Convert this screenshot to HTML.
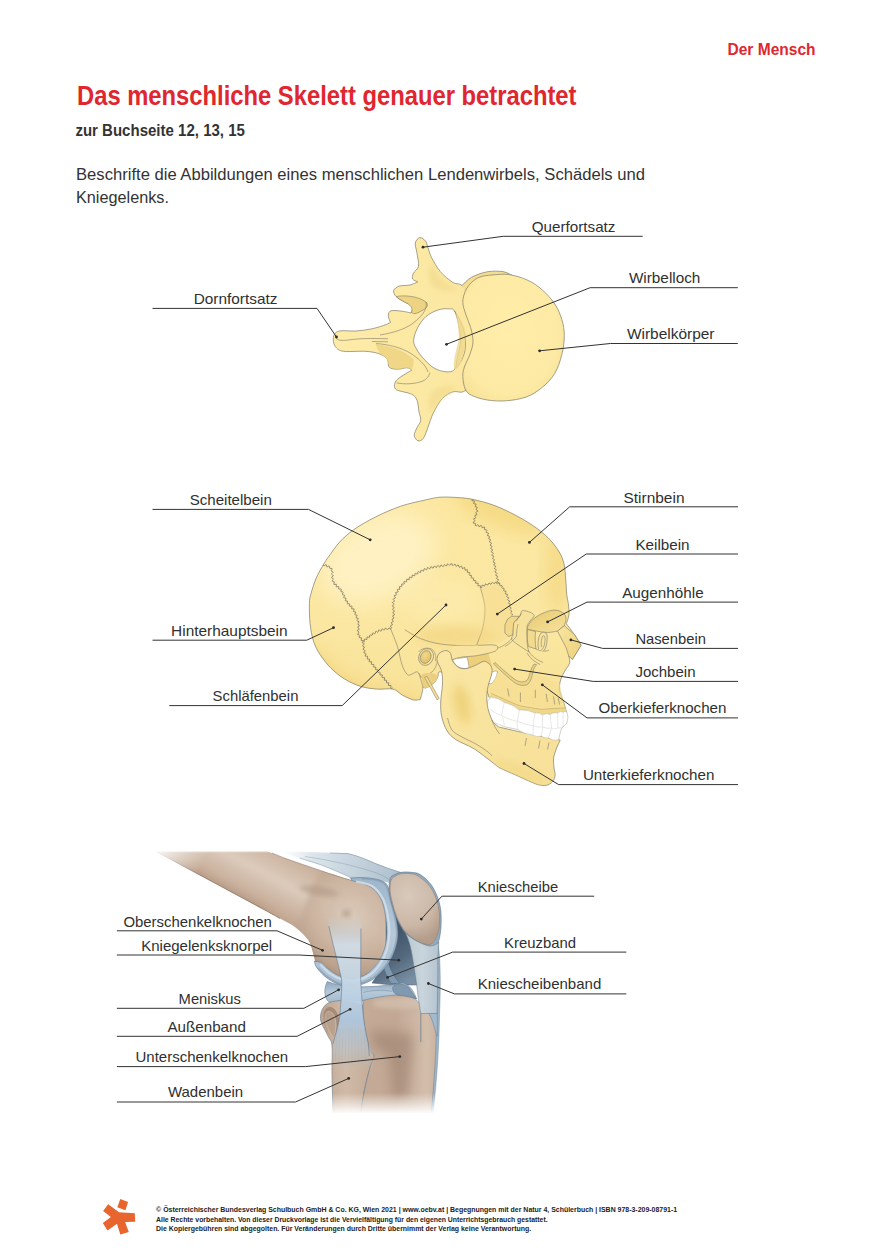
<!DOCTYPE html>
<html lang="de"><head><meta charset="utf-8"><title>Das menschliche Skelett genauer betrachtet</title>
<style>
html,body{margin:0;padding:0;background:#fff;}
body{width:890px;height:1259px;overflow:hidden;position:relative;font-family:"Liberation Sans",sans-serif;}
svg{position:absolute;left:0;top:0;display:block;}
text{font-family:"Liberation Sans",sans-serif;}
.lb{font-size:15px;fill:#303030;}
.ln{fill:none;stroke:#333;stroke-width:1;}
.dot{fill:#2b2b2b;}
</style></head><body>
<svg width="890" height="1259" viewBox="0 0 890 1259">
<defs>
<filter id="blur6" x="-40%" y="-40%" width="180%" height="180%"><feGaussianBlur stdDeviation="5.5"/></filter>
<filter id="blur12" x="-40%" y="-40%" width="180%" height="180%"><feGaussianBlur stdDeviation="12"/></filter>
<filter id="blur1" x="-10%" y="-10%" width="120%" height="120%"><feGaussianBlur stdDeviation="0.7"/></filter>
<filter id="blur2" x="-30%" y="-30%" width="160%" height="160%"><feGaussianBlur stdDeviation="2.5"/></filter>
<filter id="blur4" x="-30%" y="-30%" width="160%" height="160%"><feGaussianBlur stdDeviation="4"/></filter>
<filter id="blur8" x="-30%" y="-30%" width="160%" height="160%"><feGaussianBlur stdDeviation="8"/></filter>
<linearGradient id="vg1" x1="0" y1="0" x2="1" y2="0"><stop offset="0" stop-color="#fdeba8"/><stop offset="1" stop-color="#fbe7a0"/></linearGradient>
<radialGradient id="vg2" cx="0.45" cy="0.45" r="0.65"><stop offset="0" stop-color="#ffeda9"/><stop offset="0.75" stop-color="#fdeaa4"/><stop offset="1" stop-color="#f6e095"/></radialGradient>
<linearGradient id="sg1" x1="0" y1="0" x2="0" y2="1"><stop offset="0" stop-color="#fce8a2"/><stop offset="0.6" stop-color="#fbe7a1"/><stop offset="1" stop-color="#f8e196"/></linearGradient>
<linearGradient id="og" x1="0" y1="0" x2="0.9" y2="1"><stop offset="0" stop-color="#e6c76d"/><stop offset="0.6" stop-color="#f0d88a"/><stop offset="1" stop-color="#f6e19a"/></linearGradient>
<linearGradient id="ng" x1="0" y1="0" x2="1" y2="1"><stop offset="0" stop-color="#f9e6a2"/><stop offset="1" stop-color="#ecd07b"/></linearGradient>
<radialGradient id="eg" cx="0.4" cy="0.4" r="0.7"><stop offset="0" stop-color="#f1d98c"/><stop offset="1" stop-color="#dcbc62"/></radialGradient>
<linearGradient id="mg" x1="0" y1="0" x2="1" y2="1"><stop offset="0" stop-color="#fae7a4"/><stop offset="1" stop-color="#f7e098"/></linearGradient>
<clipPath id="skclip"><path d="M440.0,497.2 C445.4,496.8 452.6,497.2 458.0,497.6 C463.4,498.0 466.4,498.0 472.4,499.3 C478.4,500.6 486.7,502.6 493.9,505.3 C501.1,508.0 508.9,511.8 515.5,515.2 C522.1,518.7 528.1,522.3 533.5,526.0 C538.9,529.7 543.7,533.4 547.9,537.6 C552.1,541.8 556.0,546.8 558.7,551.1 C561.4,555.5 562.8,558.9 564.0,563.7 C565.2,568.5 565.3,574.8 565.8,579.9 C566.2,585.0 566.3,590.4 566.7,594.3 C567.1,598.2 567.9,600.2 568.3,603.5 C568.7,606.8 569.3,610.9 569.0,614.3 C568.7,617.7 566.8,622.1 566.3,623.7 C567.6,625.5 571.9,630.9 574.4,634.5 C576.9,638.1 580.0,643.5 581.1,645.3 C579.6,647.6 573.9,657.0 572.4,659.4 C571.8,658.8 569.2,656.4 568.6,655.8 C568.8,657.0 570.3,660.3 569.7,662.8 C569.1,665.3 566.4,668.2 564.9,670.9 C563.4,673.6 561.8,675.9 560.9,679.0 C560.0,682.1 559.0,686.0 559.5,689.8 C560.0,693.6 562.4,698.2 563.6,701.9 C564.8,705.6 566.0,710.3 566.5,712.0 C564.1,712.1 555.8,712.2 551.9,712.5 C548.0,712.8 546.8,714.1 542.9,713.7 C539.0,713.3 532.2,711.1 528.3,710.3 C524.4,709.4 522.5,709.7 519.3,708.6 C516.1,707.5 511.8,704.6 509.2,703.5 C506.6,702.4 506.0,703.1 503.6,701.9 C501.2,700.7 497.0,697.0 494.6,696.2 C492.2,695.5 489.9,697.2 489.0,697.4 C488.5,695.8 487.5,692.2 486.0,688.0 C484.5,683.8 484.0,675.3 480.0,672.0 C476.0,668.7 467.8,668.0 462.0,668.0 C456.2,668.0 448.8,671.3 445.0,672.0 C441.2,672.7 440.2,671.2 439.0,672.0 C437.8,672.8 438.5,675.3 437.8,677.0 C437.1,678.7 436.1,680.5 434.8,682.0 C433.5,683.5 431.6,685.0 430.0,686.0 C428.4,687.0 426.7,687.8 425.5,688.0 C424.3,688.2 423.2,687.3 422.8,687.2 C422.8,687.9 422.9,689.0 422.5,691.1 C422.1,693.2 420.6,698.2 420.2,699.6 C419.1,699.6 416.2,700.6 413.3,699.9 C410.4,699.2 405.9,697.0 402.5,695.2 C399.1,693.4 397.3,690.1 393.0,689.1 C388.7,688.1 382.3,689.6 376.9,689.1 C371.5,688.6 366.1,688.1 360.7,686.4 C355.3,684.7 349.4,682.0 344.5,679.0 C339.6,676.0 335.1,672.2 331.0,668.2 C326.9,664.2 323.1,659.2 320.2,654.7 C317.3,650.2 315.2,646.4 313.5,641.2 C311.8,636.0 310.8,630.0 310.1,623.7 C309.4,617.4 309.3,608.4 309.4,603.5 C309.5,598.6 309.7,598.5 310.8,594.3 C311.9,590.1 314.1,583.0 316.2,578.1 C318.3,573.2 321.3,568.2 323.4,564.6 C325.5,561.0 326.1,560.2 328.8,556.5 C331.5,552.8 335.4,546.6 339.6,542.1 C343.8,537.6 347.9,533.8 353.9,529.6 C359.9,525.4 367.7,520.9 375.5,517.0 C383.3,513.1 392.3,509.1 400.7,506.2 C409.1,503.3 419.2,501.4 425.8,499.9 C432.4,498.4 434.6,497.6 440.0,497.2Z"/></clipPath>
<clipPath id="mdclip"><path d="M443.4,651.0 C442.1,651.5 440.1,652.2 439.0,653.5 C437.9,654.8 437.2,656.9 437.0,658.5 C436.8,660.1 437.2,661.2 438.0,663.3 C438.8,665.4 440.9,667.9 441.6,671.3 C442.4,674.7 442.6,678.8 442.5,683.9 C442.4,689.0 440.8,696.5 440.7,701.9 C440.6,707.3 440.6,711.5 441.6,716.3 C442.7,721.1 444.6,726.8 447.0,730.7 C449.4,734.6 451.5,736.7 456.0,739.7 C460.5,742.7 467.9,745.0 473.9,748.7 C479.9,752.4 487.5,758.8 491.9,762.0 C496.2,765.2 496.1,765.9 500.0,768.0 C503.9,770.1 510.5,772.7 515.2,774.8 C519.9,776.9 524.4,779.1 528.3,780.8 C532.2,782.5 535.4,784.0 538.4,784.8 C541.4,785.5 544.1,785.8 546.5,785.3 C548.9,784.8 551.2,783.2 552.6,781.6 C554.0,780.0 554.9,777.7 555.1,775.5 C555.4,773.3 554.4,771.3 554.1,768.4 C553.9,765.5 553.2,761.7 553.6,758.3 C554.0,754.9 555.5,751.2 556.6,748.2 C557.7,745.2 559.6,741.5 560.2,740.1 C557.7,739.6 550.9,738.2 545.0,737.0 C539.1,735.8 532.6,734.6 525.0,733.0 C517.4,731.4 503.4,728.1 499.1,727.1 C498.4,726.6 496.2,725.2 495.0,724.0 C493.8,722.8 493.2,723.0 491.9,719.9 C490.6,716.8 488.1,710.6 487.4,705.5 C486.6,700.4 486.6,694.7 487.4,689.3 C488.1,683.9 491.3,677.0 491.9,673.1 C492.5,669.2 491.9,667.9 491.0,666.0 C490.1,664.1 487.9,662.8 486.5,662.0 C485.1,661.2 485.0,660.8 482.9,661.5 C480.8,662.2 476.9,664.8 473.9,666.0 C470.9,667.2 467.6,668.6 464.9,668.7 C462.2,668.9 459.9,668.2 457.8,666.9 C455.7,665.5 453.6,662.9 452.4,660.6 C451.2,658.4 451.5,655.0 450.6,653.4 C449.7,651.8 448.2,651.1 447.0,650.7 C445.8,650.3 444.7,650.5 443.4,651.0Z"/></clipPath>
<linearGradient id="kfem" gradientUnits="userSpaceOnUse" x1="300" y1="860" x2="262" y2="932"><stop offset="0" stop-color="#c9b09b"/><stop offset="0.35" stop-color="#dccbbc"/><stop offset="0.7" stop-color="#c5ab96"/><stop offset="1" stop-color="#a68b76"/></linearGradient>
<radialGradient id="kcon" gradientUnits="userSpaceOnUse" cx="352" cy="915" r="62"><stop offset="0" stop-color="#dbcaba"/><stop offset="0.6" stop-color="#ccb5a1"/><stop offset="1" stop-color="#b79e8a"/></radialGradient>
<linearGradient id="kfade" gradientUnits="userSpaceOnUse" x1="153" y1="849" x2="198" y2="873"><stop offset="0" stop-color="#fff" stop-opacity="1"/><stop offset="1" stop-color="#fff" stop-opacity="0"/></linearGradient>
<linearGradient id="ktopfade" x1="0" y1="0" x2="0" y2="1"><stop offset="0" stop-color="#fff" stop-opacity="1"/><stop offset="1" stop-color="#fff" stop-opacity="0"/></linearGradient>
<linearGradient id="kbotfade" x1="0" y1="0" x2="0" y2="1"><stop offset="0" stop-color="#fff" stop-opacity="0"/><stop offset="1" stop-color="#fff" stop-opacity="1"/></linearGradient>
<linearGradient id="ktib" gradientUnits="userSpaceOnUse" x1="362" y1="0" x2="438" y2="0"><stop offset="0" stop-color="#c4ab97"/><stop offset="0.45" stop-color="#c2a894"/><stop offset="0.85" stop-color="#d3beac"/><stop offset="1" stop-color="#c9b19d"/></linearGradient>
<linearGradient id="kfib" gradientUnits="userSpaceOnUse" x1="320" y1="0" x2="372" y2="0"><stop offset="0" stop-color="#bfa590"/><stop offset="0.5" stop-color="#d0baa7"/><stop offset="1" stop-color="#c3aa95"/></linearGradient>
<radialGradient id="kpat" gradientUnits="userSpaceOnUse" cx="408" cy="896" r="46"><stop offset="0" stop-color="#d8c9bb"/><stop offset="0.65" stop-color="#cbb7a6"/><stop offset="1" stop-color="#b59e8c"/></radialGradient>
<linearGradient id="kcart" gradientUnits="userSpaceOnUse" x1="350" y1="880" x2="350" y2="986"><stop offset="0" stop-color="#9fb6ca"/><stop offset="0.5" stop-color="#b6c9d9"/><stop offset="1" stop-color="#a9bfd1"/></linearGradient>
<linearGradient id="klcl" gradientUnits="userSpaceOnUse" x1="0" y1="912" x2="0" y2="1075"><stop offset="0.02" stop-color="#c3d4e1" stop-opacity="0"/><stop offset="0.2" stop-color="#d0dee9" stop-opacity="0.9"/><stop offset="0.45" stop-color="#c4d6e5" stop-opacity="0.95"/><stop offset="0.66" stop-color="#adc6de" stop-opacity="0.95"/><stop offset="0.85" stop-color="#b9c6d2" stop-opacity="0.55"/><stop offset="1" stop-color="#c9b9aa" stop-opacity="0"/></linearGradient>
<linearGradient id="kplig" gradientUnits="userSpaceOnUse" x1="405" y1="0" x2="440" y2="0"><stop offset="0" stop-color="#b9c8d1"/><stop offset="0.5" stop-color="#c8d4db"/><stop offset="1" stop-color="#b0c1cd"/></linearGradient>
<linearGradient id="kquad" gradientUnits="userSpaceOnUse" x1="282" y1="852" x2="405" y2="880"><stop offset="0" stop-color="#dde6ec" stop-opacity="0"/><stop offset="0.25" stop-color="#d6e1e8" stop-opacity="0.9"/><stop offset="0.6" stop-color="#c4d2dc"/><stop offset="1" stop-color="#a9bdcc"/></linearGradient>

<clipPath id="kfemclip"><path d="M156.0,851.5 C174.7,851.5 249.3,851.5 268.0,851.5 C270.8,852.6 276.2,855.1 285.0,858.3 C293.8,861.5 309.3,866.8 320.5,870.5 C331.7,874.2 346.9,878.9 352.2,880.6 C355.3,881.7 366.0,884.0 370.8,887.0 C375.6,890.0 378.5,894.3 380.9,898.8 C383.3,903.3 384.1,908.3 385.1,913.9 C386.1,919.5 386.9,926.6 386.8,932.5 C386.7,938.4 385.9,944.2 384.3,949.3 C382.8,954.3 380.3,958.8 377.5,962.8 C374.7,966.8 371.0,970.8 367.4,973.4 C363.8,976.0 359.8,977.5 355.6,978.1 C351.4,978.7 346.3,978.2 342.1,977.0 C337.9,975.8 333.9,973.1 330.3,970.6 C326.7,968.1 323.0,963.7 320.5,962.3 C318.0,960.9 316.2,962.3 315.4,962.3 C315.1,960.9 314.6,957.9 313.4,954.2 C312.2,950.5 311.2,944.5 308.3,940.1 C305.4,935.7 300.9,931.5 296.2,927.9 C291.5,924.3 285.7,921.7 280.0,918.5 C274.3,915.3 265.0,910.2 262.0,908.5 C244.3,899.0 173.7,861.0 156.0,851.5Z"/></clipPath>
<clipPath id="ktibclip"><path d="M363.5,998.2 C366.5,997.7 376.1,995.9 381.7,995.3 C387.3,994.7 391.9,994.1 397.0,994.4 C402.1,994.7 407.9,995.0 412.3,997.2 C416.8,999.4 420.5,1004.4 423.7,1007.8 C426.9,1011.1 429.3,1013.2 431.4,1017.3 C433.5,1021.4 435.2,1028.0 436.1,1032.6 C437.1,1037.2 437.2,1038.0 437.1,1045.0 C437.0,1052.0 436.1,1063.1 435.2,1074.6 C434.2,1086.1 432.0,1107.4 431.4,1114.0 C419.6,1114.0 372.5,1114.0 360.7,1114.0 C361.3,1110.0 362.9,1097.7 364.5,1089.9 C366.1,1082.1 368.6,1072.7 370.2,1067.0 C371.8,1061.3 374.1,1058.5 374.0,1055.5 C373.9,1052.5 370.7,1052.8 369.3,1049.0 C367.9,1045.2 366.6,1038.8 365.5,1032.6 C364.4,1026.4 363.3,1017.7 363.0,1012.0 C362.7,1006.3 363.4,1000.5 363.5,998.2Z"/></clipPath>
<linearGradient id="kdark" gradientUnits="userSpaceOnUse" x1="392" y1="935" x2="418" y2="975"><stop offset="0" stop-color="#41566b"/><stop offset="0.5" stop-color="#54697e"/><stop offset="1" stop-color="#788fa4"/></linearGradient>
<linearGradient id="kmen" gradientUnits="userSpaceOnUse" x1="0" y1="982" x2="0" y2="1002"><stop offset="0" stop-color="#90a8bd"/><stop offset="0.5" stop-color="#b5c9da"/><stop offset="1" stop-color="#a5bbcc"/></linearGradient>

</defs>
<!-- header -->
<text x="727.5" y="55" font-size="16.5" font-weight="700" fill="#e0262f" textLength="88" lengthAdjust="spacingAndGlyphs">Der Mensch</text>
<text x="77" y="105.4" font-size="27.4" font-weight="700" fill="#e0262f" textLength="499.5" lengthAdjust="spacingAndGlyphs">Das menschliche Skelett genauer betrachtet</text>
<text x="75.4" y="135.8" font-size="16" font-weight="700" fill="#333" textLength="169.5" lengthAdjust="spacingAndGlyphs">zur Buchseite 12, 13, 15</text>
<text x="76" y="180" font-size="16" fill="#333" textLength="569" lengthAdjust="spacingAndGlyphs">Beschrifte die Abbildungen eines menschlichen Lendenwirbels, Schädels und</text>
<text x="76" y="202.5" font-size="16" fill="#333" textLength="93" lengthAdjust="spacingAndGlyphs">Kniegelenks.</text>

<!-- vertebra -->
<g>
<path d="M419.8,237.6 C421.5,237.3 424.2,239.4 425.5,241.0 C426.8,242.6 426.8,244.3 427.8,247.0 C428.8,249.7 429.4,253.3 431.5,257.4 C433.6,261.5 436.8,267.5 440.4,271.7 C444.0,275.9 449.4,280.2 453.0,282.5 C456.6,284.8 458.8,282.6 462.0,285.5 C465.2,288.4 469.7,290.9 472.0,300.0 C474.3,309.1 476.0,326.7 476.0,340.0 C476.0,353.3 474.0,371.4 472.0,380.0 C470.0,388.6 467.0,389.5 463.8,391.5 C460.6,393.5 456.6,390.6 453.0,391.8 C449.4,393.0 445.5,395.1 442.2,398.7 C438.9,402.2 435.7,408.3 433.3,413.1 C430.9,417.9 429.5,423.3 427.9,427.5 C426.2,431.7 425.0,436.1 423.4,438.3 C421.8,440.5 419.5,441.3 418.0,440.8 C416.5,440.3 414.3,437.7 414.2,435.5 C414.1,433.3 416.0,430.0 417.1,427.5 C418.2,425.0 420.4,423.0 420.7,420.3 C421.0,417.6 419.5,414.6 418.9,411.3 C418.3,408.0 418.3,403.4 417.1,400.5 C415.9,397.6 415.1,396.0 411.7,394.2 C408.2,392.4 399.2,391.5 396.4,389.7 C393.6,387.9 394.4,385.4 394.8,383.5 C395.2,381.6 396.2,380.2 399.1,378.0 C402.0,375.8 409.8,371.3 411.9,370.0 C411.1,369.6 409.4,367.9 407.0,367.8 C404.6,367.7 400.3,369.3 397.3,369.2 C394.3,369.1 390.9,368.9 389.2,367.2 C387.5,365.5 389.0,361.4 387.4,359.2 C385.8,357.0 383.0,355.1 379.3,353.8 C375.6,352.5 371.0,351.7 365.0,351.3 C359.0,350.9 348.3,352.1 343.4,351.3 C338.5,350.6 337.2,348.8 335.5,346.8 C333.8,344.8 333.4,341.8 333.3,339.5 C333.2,337.2 333.9,334.6 335.2,333.2 C336.5,331.8 337.5,331.2 341.0,330.8 C344.5,330.4 351.0,331.3 356.0,331.0 C361.0,330.7 366.4,329.9 371.0,329.0 C375.6,328.1 380.2,326.6 383.5,325.5 C386.8,324.4 389.3,323.0 390.5,322.5 C390.1,321.3 388.2,317.4 388.3,315.5 C388.4,313.6 388.7,311.5 391.0,310.8 C393.3,310.1 398.7,310.8 402.0,311.2 C405.3,311.6 409.5,312.7 411.0,313.0 C411.3,311.9 413.7,308.3 412.6,306.5 C411.5,304.7 407.3,303.7 404.5,302.0 C401.7,300.3 397.8,298.4 396.0,296.5 C394.2,294.6 393.2,292.2 393.7,290.5 C394.2,288.8 396.4,287.0 399.1,286.1 C401.8,285.2 406.8,285.7 409.9,285.0 C413.0,284.3 416.5,282.4 417.8,281.9 C416.9,281.4 413.3,280.4 412.6,279.0 C411.9,277.6 412.5,275.3 413.5,273.2 C414.5,271.1 417.9,269.5 418.5,266.3 C419.1,263.1 417.6,257.7 417.1,253.8 C416.6,249.9 414.9,245.7 415.3,243.0 C415.8,240.3 418.1,237.9 419.8,237.6Z M413.6,340.5 C413.8,337.0 415.4,332.0 417.5,328.0 C419.6,324.0 422.6,319.5 426.0,316.5 C429.4,313.5 434.2,311.3 438.0,310.0 C441.8,308.7 445.8,308.6 448.5,308.8 C451.2,309.0 452.8,308.1 454.5,311.0 C456.2,313.9 457.9,321.0 458.9,326.1 C459.9,331.2 460.6,336.6 460.4,341.8 C460.2,347.0 458.5,352.9 457.5,357.5 C456.5,362.1 456.4,367.1 454.5,369.5 C452.6,371.9 449.4,372.1 446.0,371.8 C442.6,371.6 437.8,370.2 434.0,368.0 C430.2,365.8 426.4,361.7 423.5,358.5 C420.6,355.3 418.1,352.0 416.5,349.0 C414.9,346.0 413.4,344.0 413.6,340.5Z" fill="url(#vg1)" fill-rule="evenodd" stroke="#807b66" stroke-width="0.7"/>
<path d="M431,262 C436,275 446,284 458,290 C450,292 440,292 432,286 C428,278 428,270 431,262Z" fill="#efd789" opacity="0.55" filter="url(#blur2)"/>
<path d="M431,414 C436,402 446,394 458,388 C450,385 440,385 432,391 C428,399 428,407 431,414Z" fill="#efd789" opacity="0.55" filter="url(#blur2)"/>
<path d="M396.5,296.5 C404,295 418,296 426,302 C429,305 427,308 423,310 C418,313 414,315 411.5,312.5 C413,308 411,305 404.5,302 C401,300 398,298.5 396.5,296.5Z" fill="#edd382" stroke="#807b66" stroke-width="0.6"/>
<path d="M396.5,382.8 C404,384.6 416,384.2 424,380.5 C428,378 429.5,374.5 429.8,372.5" fill="none" stroke="#807b66" stroke-width="0.6"/>
<path d="M426,302 C428,310 420,318 412,324 C403,330 392,333 380,335" fill="none" stroke="#807b66" stroke-width="0.6"/>
<path d="M428,372 C426,365 418,358 410,353 C400,347 388,344.5 376,343.5" fill="none" stroke="#807b66" stroke-width="0.6"/>
<path d="M335.5,337.5 C338,341.5 345,340.5 352,339.5 C364,338 376,338.5 388,338.8" fill="none" stroke="#807b66" stroke-width="0.6"/>
<path d="M372,341.5 L388,341.8" fill="none" stroke="#807b66" stroke-width="0.6"/>
<path d="M375.5,343.8 C388,345.5 402,349 413.5,359 C414,363 413,367 411.9,370 L407,367.8 L397.3,369.2 L389.2,367.2 C389,362 387,357.5 380,354 C378,350 376.5,347 375.5,343.8Z" fill="#ecd07e" opacity="0.75"/>
<path d="M462.0,285.5 C463.6,284.1 467.3,279.6 471.5,277.3 C475.7,275.0 482.0,272.8 487.2,271.8 C492.4,270.9 498.7,271.0 502.9,271.6 C507.1,272.2 510.8,274.8 512.4,275.4 L509.2,274.6 L465.2,291.5Z" fill="#f3dd93" stroke="none"/>
<path d="M462.0,285.5 C463.6,284.1 467.3,279.6 471.5,277.3 C475.7,275.0 482.0,272.8 487.2,271.8 C492.4,270.9 498.7,271.0 502.9,271.6 C507.1,272.2 510.8,274.8 512.4,275.4" fill="none" stroke="#807b66" stroke-width="0.7"/>
<path d="M454.5,311 C462,322 466,334 465.5,346 C465,356 460,364 455,369" fill="none" stroke="#807b66" stroke-width="0.6"/>
<path d="M456,312 C460,318 463,324 465,330 C466,340 465,352 461,362 C459.5,366 457,369 455,369.5 C452,366 456,350 458.5,341 C459.5,331 457,320 456,312Z" fill="#efd88c" opacity="0.8"/>
<path d="M465.2,291.5 C466.6,288.2 469.0,284.9 471.5,282.5 C474.0,280.1 476.6,278.2 480.0,277.0 C483.4,275.8 487.0,275.4 491.9,275.0 C496.8,274.6 503.2,273.7 509.2,274.6 C515.2,275.5 522.6,277.8 528.1,280.4 C533.6,282.9 537.8,286.0 542.2,289.9 C546.7,293.8 551.5,299.0 554.8,304.0 C558.1,309.0 560.3,314.6 561.9,319.8 C563.5,325.1 564.3,329.7 564.3,335.5 C564.3,341.3 563.5,348.1 561.9,354.4 C560.3,360.7 558.1,367.8 554.8,373.3 C551.5,378.8 546.9,383.5 542.2,387.4 C537.5,391.3 532.5,394.7 526.5,396.9 C520.5,399.1 512.6,400.3 506.1,400.8 C499.6,401.3 493.0,400.9 487.2,400.0 C481.4,399.1 475.2,397.1 471.5,395.3 C467.8,393.5 466.6,392.1 465.2,389.0 C463.8,385.9 462.9,380.1 462.8,376.4 C462.7,372.7 463.2,370.7 464.4,367.0 C465.6,363.3 468.5,358.6 469.9,354.4 C471.3,350.2 472.9,346.3 473.0,341.8 C473.1,337.3 471.9,332.1 470.7,327.6 C469.5,323.1 467.3,319.2 466.0,315.0 C464.7,310.8 462.9,306.4 462.8,302.5 C462.7,298.6 463.8,294.8 465.2,291.5Z" fill="url(#vg2)" stroke="#807b66" stroke-width="0.7"/>
</g>

<!-- skull -->
<g>
<path d="M440.0,497.2 C445.4,496.8 452.6,497.2 458.0,497.6 C463.4,498.0 466.4,498.0 472.4,499.3 C478.4,500.6 486.7,502.6 493.9,505.3 C501.1,508.0 508.9,511.8 515.5,515.2 C522.1,518.7 528.1,522.3 533.5,526.0 C538.9,529.7 543.7,533.4 547.9,537.6 C552.1,541.8 556.0,546.8 558.7,551.1 C561.4,555.5 562.8,558.9 564.0,563.7 C565.2,568.5 565.3,574.8 565.8,579.9 C566.2,585.0 566.3,590.4 566.7,594.3 C567.1,598.2 567.9,600.2 568.3,603.5 C568.7,606.8 569.3,610.9 569.0,614.3 C568.7,617.7 566.8,622.1 566.3,623.7 C567.6,625.5 571.9,630.9 574.4,634.5 C576.9,638.1 580.0,643.5 581.1,645.3 C579.6,647.6 573.9,657.0 572.4,659.4 C571.8,658.8 569.2,656.4 568.6,655.8 C568.8,657.0 570.3,660.3 569.7,662.8 C569.1,665.3 566.4,668.2 564.9,670.9 C563.4,673.6 561.8,675.9 560.9,679.0 C560.0,682.1 559.0,686.0 559.5,689.8 C560.0,693.6 562.4,698.2 563.6,701.9 C564.8,705.6 566.0,710.3 566.5,712.0 C564.1,712.1 555.8,712.2 551.9,712.5 C548.0,712.8 546.8,714.1 542.9,713.7 C539.0,713.3 532.2,711.1 528.3,710.3 C524.4,709.4 522.5,709.7 519.3,708.6 C516.1,707.5 511.8,704.6 509.2,703.5 C506.6,702.4 506.0,703.1 503.6,701.9 C501.2,700.7 497.0,697.0 494.6,696.2 C492.2,695.5 489.9,697.2 489.0,697.4 C488.5,695.8 487.5,692.2 486.0,688.0 C484.5,683.8 484.0,675.3 480.0,672.0 C476.0,668.7 467.8,668.0 462.0,668.0 C456.2,668.0 448.8,671.3 445.0,672.0 C441.2,672.7 440.2,671.2 439.0,672.0 C437.8,672.8 438.5,675.3 437.8,677.0 C437.1,678.7 436.1,680.5 434.8,682.0 C433.5,683.5 431.6,685.0 430.0,686.0 C428.4,687.0 426.7,687.8 425.5,688.0 C424.3,688.2 423.2,687.3 422.8,687.2 C422.8,687.9 422.9,689.0 422.5,691.1 C422.1,693.2 420.6,698.2 420.2,699.6 C419.1,699.6 416.2,700.6 413.3,699.9 C410.4,699.2 405.9,697.0 402.5,695.2 C399.1,693.4 397.3,690.1 393.0,689.1 C388.7,688.1 382.3,689.6 376.9,689.1 C371.5,688.6 366.1,688.1 360.7,686.4 C355.3,684.7 349.4,682.0 344.5,679.0 C339.6,676.0 335.1,672.2 331.0,668.2 C326.9,664.2 323.1,659.2 320.2,654.7 C317.3,650.2 315.2,646.4 313.5,641.2 C311.8,636.0 310.8,630.0 310.1,623.7 C309.4,617.4 309.3,608.4 309.4,603.5 C309.5,598.6 309.7,598.5 310.8,594.3 C311.9,590.1 314.1,583.0 316.2,578.1 C318.3,573.2 321.3,568.2 323.4,564.6 C325.5,561.0 326.1,560.2 328.8,556.5 C331.5,552.8 335.4,546.6 339.6,542.1 C343.8,537.6 347.9,533.8 353.9,529.6 C359.9,525.4 367.7,520.9 375.5,517.0 C383.3,513.1 392.3,509.1 400.7,506.2 C409.1,503.3 419.2,501.4 425.8,499.9 C432.4,498.4 434.6,497.6 440.0,497.2Z" fill="url(#sg1)" stroke="none"/>
<g clip-path="url(#skclip)">
<ellipse cx="378" cy="558" rx="62" ry="42" fill="#fff3c8" opacity="0.85" filter="url(#blur12)" transform="rotate(-25 378 558)"/><ellipse cx="440" cy="600" rx="40" ry="22" fill="#fdecb0" opacity="0.6" filter="url(#blur8)"/>
<ellipse cx="500" cy="510" rx="50" ry="16" fill="#f3d57a" opacity="0.7" filter="url(#blur8)" transform="rotate(22 500 510)"/>
<ellipse cx="558" cy="570" rx="12" ry="45" fill="#f2d37a" opacity="0.6" filter="url(#blur8)"/>
<path d="M312,640 C325,668 350,684 380,690 L420,700 L425,712 L300,712Z" fill="#f1d174" opacity="0.75" filter="url(#blur8)"/>
<ellipse cx="455" cy="636" rx="40" ry="10" fill="#f0d07a" opacity="0.55" filter="url(#blur4)"/>
</g>
<path d="M440.0,497.2 C445.4,496.8 452.6,497.2 458.0,497.6 C463.4,498.0 466.4,498.0 472.4,499.3 C478.4,500.6 486.7,502.6 493.9,505.3 C501.1,508.0 508.9,511.8 515.5,515.2 C522.1,518.7 528.1,522.3 533.5,526.0 C538.9,529.7 543.7,533.4 547.9,537.6 C552.1,541.8 556.0,546.8 558.7,551.1 C561.4,555.5 562.8,558.9 564.0,563.7 C565.2,568.5 565.3,574.8 565.8,579.9 C566.2,585.0 566.3,590.4 566.7,594.3 C567.1,598.2 567.9,600.2 568.3,603.5 C568.7,606.8 569.3,610.9 569.0,614.3 C568.7,617.7 566.8,622.1 566.3,623.7 C567.6,625.5 571.9,630.9 574.4,634.5 C576.9,638.1 580.0,643.5 581.1,645.3 C579.6,647.6 573.9,657.0 572.4,659.4 C571.8,658.8 569.2,656.4 568.6,655.8 C568.8,657.0 570.3,660.3 569.7,662.8 C569.1,665.3 566.4,668.2 564.9,670.9 C563.4,673.6 561.8,675.9 560.9,679.0 C560.0,682.1 559.0,686.0 559.5,689.8 C560.0,693.6 562.4,698.2 563.6,701.9 C564.8,705.6 566.0,710.3 566.5,712.0 C564.1,712.1 555.8,712.2 551.9,712.5 C548.0,712.8 546.8,714.1 542.9,713.7 C539.0,713.3 532.2,711.1 528.3,710.3 C524.4,709.4 522.5,709.7 519.3,708.6 C516.1,707.5 511.8,704.6 509.2,703.5 C506.6,702.4 506.0,703.1 503.6,701.9 C501.2,700.7 497.0,697.0 494.6,696.2 C492.2,695.5 489.9,697.2 489.0,697.4 C488.5,695.8 487.5,692.2 486.0,688.0 C484.5,683.8 484.0,675.3 480.0,672.0 C476.0,668.7 467.8,668.0 462.0,668.0 C456.2,668.0 448.8,671.3 445.0,672.0 C441.2,672.7 440.2,671.2 439.0,672.0 C437.8,672.8 438.5,675.3 437.8,677.0 C437.1,678.7 436.1,680.5 434.8,682.0 C433.5,683.5 431.6,685.0 430.0,686.0 C428.4,687.0 426.7,687.8 425.5,688.0 C424.3,688.2 423.2,687.3 422.8,687.2 C422.8,687.9 422.9,689.0 422.5,691.1 C422.1,693.2 420.6,698.2 420.2,699.6 C419.1,699.6 416.2,700.6 413.3,699.9 C410.4,699.2 405.9,697.0 402.5,695.2 C399.1,693.4 397.3,690.1 393.0,689.1 C388.7,688.1 382.3,689.6 376.9,689.1 C371.5,688.6 366.1,688.1 360.7,686.4 C355.3,684.7 349.4,682.0 344.5,679.0 C339.6,676.0 335.1,672.2 331.0,668.2 C326.9,664.2 323.1,659.2 320.2,654.7 C317.3,650.2 315.2,646.4 313.5,641.2 C311.8,636.0 310.8,630.0 310.1,623.7 C309.4,617.4 309.3,608.4 309.4,603.5 C309.5,598.6 309.7,598.5 310.8,594.3 C311.9,590.1 314.1,583.0 316.2,578.1 C318.3,573.2 321.3,568.2 323.4,564.6 C325.5,561.0 326.1,560.2 328.8,556.5 C331.5,552.8 335.4,546.6 339.6,542.1 C343.8,537.6 347.9,533.8 353.9,529.6 C359.9,525.4 367.7,520.9 375.5,517.0 C383.3,513.1 392.3,509.1 400.7,506.2 C409.1,503.3 419.2,501.4 425.8,499.9 C432.4,498.4 434.6,497.6 440.0,497.2Z" fill="none" stroke="#807b66" stroke-width="0.7"/>
<path d="M323.4,564.6 L323.5,565.5 L324.1,565.9 L325.2,565.0 L326.2,564.6 L326.6,566.0 L327.2,567.0 L328.6,566.1 L329.6,566.3 L329.6,568.1 L330.3,568.5 L331.9,568.3 L332.3,569.1 L331.5,570.1 L331.1,570.9 L332.3,571.5 L333.3,572.2 L332.4,573.1 L331.4,574.0 L332.5,574.9 L333.4,575.8 L332.1,576.7 L331.6,577.7 L333.0,578.5 L333.5,579.2 L332.3,580.3 L332.2,581.2 L333.6,581.6 L334.5,581.9 L334.0,583.1 L333.8,584.3 L335.0,584.4 L336.3,584.2 L336.4,585.3 L336.1,586.7 L337.1,586.9 L338.6,586.5 L338.9,587.4 L338.6,588.9 L339.4,589.2 L340.9,588.9 L341.4,589.6 L340.8,591.1 L341.0,591.8 L342.6,591.8 L343.3,592.4 L342.5,593.7 L342.4,594.6 L343.8,594.9 L344.8,595.3 L344.1,596.5 L343.6,597.6 L344.9,598.0 L346.1,598.3 L345.7,599.4 L345.1,600.6 L346.0,601.0 L347.4,601.0 L347.6,601.9 L347.0,603.3 L347.7,603.9 L349.2,603.6 L349.8,604.2 L349.4,605.7 L349.7,606.4 L351.3,606.1 L352.1,606.4 L351.7,607.9 L351.7,608.9 L353.2,608.8 L354.3,609.1 L353.7,610.5 L353.4,611.5 L354.6,611.8 L355.8,612.1 L355.4,613.2 L354.7,614.4 L355.7,614.9 L357.1,615.2 L356.7,616.3 L355.9,617.5 L356.9,618.1 L358.3,618.5 L357.8,619.5 L356.9,620.6 L357.6,621.2 L359.0,621.7 L359.0,622.5 L357.8,623.6 L358.0,624.4 L359.4,625.2 L359.1,626.1 L357.7,626.9 L358.0,627.8 L359.3,628.8 L358.8,629.6 L357.4,630.3 L357.6,631.1 L358.9,631.9 L359.0,632.6 L357.9,633.5 L357.6,634.5 L359.3,634.9 L359.9,635.6 L359.0,637.1 L359.7,637.8 L361.5,637.8 L361.5,638.9 L361.0,640.3 L361.8,640.6 L363.1,640.5 L363.7,640.8 L363.7,641.0" fill="none" stroke="#726d5a" stroke-width="0.75"/>
<path d="M363.0,641.5 L362.3,642.0 L362.2,642.6 L363.1,643.1 L364.2,643.7 L363.8,644.5 L362.6,645.5 L362.9,646.3 L364.4,647.0 L364.1,648.0 L362.9,649.1 L364.0,649.9 L365.2,650.6 L364.1,651.8 L363.9,652.9 L365.5,653.3 L366.2,653.9 L365.4,655.0 L365.2,656.1 L366.4,656.2 L367.7,656.4 L367.5,657.5 L367.0,658.8 L368.1,659.1 L369.5,659.0 L369.5,660.1 L369.0,661.6 L370.1,661.8 L371.6,661.7 L371.6,662.8 L371.2,664.2 L372.2,664.5 L373.7,664.3 L373.8,665.3 L373.3,666.7 L374.0,667.2 L375.7,667.0 L375.9,667.9 L375.4,669.4 L376.1,669.8 L377.7,669.6 L378.1,670.3 L377.6,671.8 L378.1,672.5 L379.6,672.2 L380.3,672.7 L379.9,674.1 L380.0,675.0 L381.5,674.9 L382.5,675.1 L382.1,676.5 L382.1,677.6 L383.5,677.5 L384.7,677.7 L384.3,679.1 L384.3,680.3 L386.0,680.1 L386.8,680.7 L386.2,682.4 L387.1,682.9 L388.8,682.8 L388.7,684.0 L388.4,685.4 L389.6,685.5 L391.0,685.5 L390.9,686.5 L390.5,687.7 L390.8,688.3 L391.8,688.2 L392.7,688.0 L392.7,688.0" fill="none" stroke="#726d5a" stroke-width="0.75"/>
<path d="M363.0,641.5 L363.8,641.8 L364.4,641.6 L364.3,640.4 L364.3,639.2 L365.4,639.2 L366.8,639.6 L366.9,638.3 L367.0,636.9 L368.6,637.3 L369.7,637.2 L369.5,635.4 L370.2,634.8 L371.8,635.5 L372.4,635.0 L372.4,633.3 L373.2,633.0 L374.7,633.8 L375.3,633.2 L375.5,631.6 L376.4,631.4 L377.7,632.3 L378.4,631.7 L378.6,630.1 L379.4,630.0 L380.6,631.0 L381.4,630.8 L381.7,629.4 L382.4,628.7 L383.7,630.0 L384.7,629.7 L385.4,628.1 L386.5,628.7 L387.5,629.8 L388.3,628.8 L389.0,627.7 L389.7,628.2 L390.3,629.1 L390.6,629.4" fill="none" stroke="#726d5a" stroke-width="0.75"/>
<path d="M390.5,628.6 L391.3,628.3 L391.7,627.9 L391.0,627.0 L390.2,626.1 L390.8,625.5 L392.3,625.0 L392.3,624.1 L391.1,622.9 L391.9,622.1 L393.4,621.5 L392.6,620.3 L392.0,619.2 L393.5,618.6 L394.1,617.7 L392.7,616.6 L392.8,615.7 L394.2,615.1 L394.5,614.2 L393.2,613.4 L392.7,612.6 L393.9,611.8 L394.5,610.9 L393.2,610.1 L392.4,609.3 L393.6,608.4 L394.2,607.5 L393.0,606.8 L392.2,605.9 L393.3,605.1 L394.2,604.3 L393.2,603.5 L392.3,602.6 L393.3,601.9 L394.5,601.3 L394.1,600.4 L393.1,599.3 L393.7,598.6 L395.2,598.2 L395.3,597.4 L394.3,596.2 L394.5,595.4 L396.1,595.2 L396.6,594.6 L395.8,593.3 L395.7,592.4 L397.2,592.2 L398.2,591.8 L397.6,590.5 L397.4,589.4 L398.8,589.3 L399.9,589.2 L399.7,588.1 L399.3,586.8 L400.1,586.5 L401.6,586.7 L402.0,586.0 L401.5,584.6 L401.9,583.9 L403.4,584.2 L404.3,583.9 L404.0,582.5 L404.1,581.4 L405.5,581.7 L406.7,581.8 L406.6,580.4 L406.7,579.2 L408.1,579.5 L409.3,579.7 L409.2,578.2 L409.4,577.1 L410.5,577.4 L411.8,577.8 L412.1,576.9 L412.0,575.4 L412.8,575.2 L414.2,575.9 L414.9,575.5 L414.9,573.9 L415.4,573.3 L416.8,574.0 L417.7,573.9 L417.8,572.4 L418.3,571.5 L419.7,572.3 L420.6,572.4 L420.8,570.9 L421.3,570.0 L422.5,570.7 L423.6,571.1 L423.9,569.8 L424.3,568.6 L425.4,569.1 L426.5,569.9 L427.0,568.9 L427.5,567.5 L428.5,568.0 L429.7,568.9 L430.3,567.9 L430.9,566.6 L432.0,567.4 L433.1,568.2 L433.7,567.0 L434.4,565.9 L435.5,567.0 L436.5,567.6 L437.1,566.2 L437.9,565.4 L438.8,566.4 L439.8,567.1 L440.4,566.1 L441.0,564.9 L441.8,565.4 L442.6,566.4 L443.3,566.5 L443.8,565.4 L444.8,564.5 L446.1,565.9 L446.9,565.5 L447.4,564.1 L448.0,563.8 L448.9,564.7 L449.6,565.4 L450.2,564.9 L450.9,563.7 L451.8,563.7 L452.5,565.3 L453.1,565.6 L454.0,564.6 L455.0,564.1 L455.5,565.3 L456.1,566.4 L457.1,565.6 L458.3,564.9 L458.8,566.2 L459.3,567.4 L460.5,566.6 L461.6,566.2 L462.0,567.6 L462.4,568.6 L463.6,568.0 L464.7,567.6 L464.9,568.8 L465.0,570.1 L466.0,570.0 L467.5,569.8 L467.6,570.8 L467.2,572.2 L468.0,572.6 L469.6,572.5 L469.8,573.4 L469.1,574.8 L469.7,575.4 L471.3,575.3 L471.7,576.1 L471.0,577.6 L471.6,578.2 L473.2,578.0 L473.8,578.6 L473.2,580.2 L473.9,580.8 L475.6,580.5 L475.9,581.5 L475.5,583.1 L476.8,583.2 L478.2,583.2 L478.0,584.5 L477.8,585.7 L478.9,585.8 L480.1,585.6 L480.6,586.0 L480.3,586.9 L480.2,587.3" fill="none" stroke="#726d5a" stroke-width="0.75"/>
<path d="M472.4,499.3 L471.9,500.1 L472.0,500.7 L473.2,500.8 L474.4,501.0 L474.2,502.0 L473.5,503.4 L474.7,503.8 L476.1,504.1 L475.5,505.5 L475.1,506.6 L476.8,507.0 L477.3,507.9 L476.1,509.1 L476.2,509.8 L477.5,510.6 L477.7,511.4 L476.3,512.0 L475.6,512.7 L476.8,514.0 L476.7,514.9 L475.0,515.3 L474.9,516.3 L475.9,517.7 L475.0,518.3 L473.6,518.8 L474.1,519.8 L475.1,520.9 L474.5,521.5 L473.3,522.1 L473.1,522.9 L474.1,523.3 L475.3,523.3 L475.4,524.0 L475.4,525.5 L476.2,525.9 L477.4,524.8 L478.3,525.0 L478.9,526.6 L479.9,526.4 L481.2,525.3 L481.8,526.4 L482.2,527.8 L483.4,527.3 L484.7,527.1 L484.7,528.2 L484.3,529.5 L485.0,529.8 L486.4,529.7 L487.0,530.3 L486.3,531.6 L486.1,532.5 L487.6,532.8 L488.6,533.3 L487.8,534.5 L487.4,535.6 L489.1,536.0 L489.7,536.8 L488.5,538.3 L489.0,539.0 L490.3,539.3 L490.7,540.0 L489.8,541.0 L489.3,541.9 L490.5,542.5 L491.6,543.1 L490.8,544.1 L490.0,545.1 L491.1,545.8 L492.2,546.4 L491.3,547.5 L490.6,548.5 L491.9,549.2 L492.8,549.9 L491.7,551.0 L491.2,551.9 L492.6,552.6 L493.4,553.3 L492.4,554.3 L491.7,555.2 L492.8,555.8 L493.9,556.3 L493.3,557.4 L492.4,558.5 L493.5,559.1 L494.6,559.8 L493.8,560.8 L493.0,561.8 L494.0,562.5 L495.2,563.1 L494.6,564.0 L493.6,565.0 L494.3,565.7 L495.7,566.2 L495.6,567.0 L494.5,568.0 L494.4,568.8 L495.8,569.3 L496.5,570.0 L495.6,570.9 L494.9,572.0 L496.3,572.6 L497.1,573.4 L495.9,574.6 L495.9,575.5 L497.6,576.1 L497.5,577.1 L496.3,578.3 L497.0,579.0 L498.5,579.6 L498.2,580.5 L497.2,581.4 L497.2,582.1 L498.3,582.5 L499.2,582.9 L499.3,583.3 L499.3,583.3" fill="none" stroke="#726d5a" stroke-width="0.75"/>
<path d="M480.4,587.1 L481.2,587.6 L481.8,587.4 L481.9,586.2 L482.2,585.0 L483.4,585.5 L484.6,586.1 L485.1,584.4 L486.0,583.8 L487.2,585.0 L487.9,585.0 L488.4,583.7 L489.0,582.9 L490.1,583.8 L491.1,584.3 L491.7,582.9 L492.5,582.2 L493.6,583.4 L494.5,583.7 L495.3,582.3 L496.2,582.1 L496.8,583.5 L497.4,584.1 L498.5,583.3 L499.5,583.0 L499.8,584.0 L499.6,585.4 L500.3,585.7 L501.8,585.4 L502.3,586.1 L501.7,587.6 L502.3,588.2 L504.0,588.2 L504.2,589.1 L503.5,590.6 L504.4,591.1 L506.0,591.2 L505.8,592.3 L505.1,593.6 L506.0,594.1 L507.5,594.3 L507.4,595.3 L506.5,596.5 L507.2,597.1 L508.8,597.5 L508.5,598.5 L507.5,599.7 L508.2,600.4 L509.7,600.9 L509.3,601.9 L508.3,603.0 L508.9,603.7 L510.4,604.2 L510.3,605.0 L509.2,606.0 L509.2,606.8 L510.7,607.3 L511.1,608.2 L509.8,609.5 L510.6,610.4 L512.0,611.1 L511.2,612.1 L510.4,613.2 L511.5,613.8 L512.6,614.3 L512.4,614.9 L511.6,615.6 L511.3,615.9" fill="none" stroke="#726d5a" stroke-width="0.75"/>
<path d="M480.4,587.1 C481.1,590.4 484.4,600.3 484.9,606.9 C485.3,613.5 484.4,620.3 483.1,626.6 C481.8,632.9 477.9,641.6 476.9,644.6" fill="none" stroke="#807b66" stroke-width="0.6"/>
<path d="M390.5,628.6 C391.7,631.6 395.6,640.7 397.5,646.7 C399.4,652.7 400.4,660.1 402.0,664.7 C403.6,669.4 405.7,673.1 407.4,674.6 C409.1,676.1 410.4,674.5 412.0,674.0 C413.6,673.5 415.8,671.4 417.3,671.9 C418.8,672.4 420.3,676.4 420.9,677.3" fill="none" stroke="#807b66" stroke-width="0.6"/>
<path d="M404.7,629.7 C407.4,631.2 414.9,636.3 420.9,638.7 C426.9,641.1 433.2,642.8 440.7,644.0 C448.2,645.2 459.6,645.6 465.8,645.8 C472.0,646.0 476.0,645.1 478.0,645.0" fill="none" stroke="#807b66" stroke-width="0.6"/>
<path d="M482,626 C484,612 485,600 481,588 L498,584 C506,594 510,606 512,616 L505,625 L505,634 L510,637 L500,642 L478,645Z" fill="#f3d98a" opacity="0.45"/>
<path d="M507.6,619 L511.7,616.3 L519.1,616.3 L513.7,623.7 L513,634.5 L509,636.5 L504.9,633.1 L504.9,625Z" fill="#f2d88a" stroke="#807b66" stroke-width="0.6" stroke-linejoin="round"/>
<path d="M467,656 L488,652 L492,666 L483,661.5 L474,666 L468,668Z" fill="#ecd07c"/>
<path d="M452.5,659.5 C456,658.5 463,657.8 467,657.2 C468,661 469,665 469,668 C464,669.5 459,668 456.5,665.5 C454.5,663.5 453.2,661.5 452.5,659.5Z" fill="#fff" stroke="#807b66" stroke-width="0.5"/>
<path d="M491.5,673 C493,671 495.5,670.5 497.5,671.5 C497,676 495,681 491,684 C489.5,684 488.5,683 488.2,682 C489.5,679 491,676 491.5,673Z" fill="#fff" stroke="#807b66" stroke-width="0.5"/>
<path d="M490,686 C494,680 497,674 499,671 C505,677 512,684 521,686 C527,686 531,682 533,672 L560,684 L563.6,701.9 L566.3,712 L489,698Z" fill="#f5de93" opacity="0.6"/>
<path d="M507.6,688.4 L509.0,696.5" stroke="#807b66" stroke-width="0.6" fill="none"/>
<path d="M520.4,692.5 L520.4,702.0" stroke="#807b66" stroke-width="0.6" fill="none"/>
<path d="M535.3,689.8 L535.3,697.9" stroke="#807b66" stroke-width="0.6" fill="none"/>
<path d="M546.1,693.8 L547.4,702.0" stroke="#807b66" stroke-width="0.6" fill="none"/>
<path d="M553.5,696.5 L554.8,704.6" stroke="#807b66" stroke-width="0.6" fill="none"/>
<path d="M558.2,697.9 L559.5,704.6" stroke="#807b66" stroke-width="0.6" fill="none"/>
<path d="M527.9,626.4 C528.7,624.8 530.2,621.8 532.6,619.7 C535.0,617.6 538.6,615.2 542.0,613.6 C545.4,612.0 549.6,610.5 552.8,610.2 C555.9,609.9 558.7,610.5 560.9,611.6 C563.1,612.7 565.4,614.6 566.0,617.0 C566.6,619.4 564.6,624.2 564.3,625.7 C563.2,626.6 558.6,630.2 557.5,631.1 C555.8,631.3 550.9,632.5 547.4,632.5 C543.9,632.5 539.9,631.7 536.6,631.1 C533.4,630.5 529.4,629.9 527.9,629.1 C526.4,628.3 527.1,628.0 527.9,626.4Z" fill="url(#og)" stroke="#807b66" stroke-width="0.6"/>
<path d="M527.5,629.5 C527,636 527.2,642 528.5,646.5 L536,649 C535,643 535,637 535.5,631.5Z" fill="#f3db8e" stroke="#807b66" stroke-width="0.6"/>
<path d="M536,649 C540,651 546,652 549,650" fill="none" stroke="#807b66" stroke-width="0.6"/>
<path d="M538.5,649.5 C537.5,644 538,637 540.5,633.5 C543,631.5 546.5,632 547,635 C547.5,641 546.5,648 543.5,651" fill="#f7e39d" stroke="#807b66" stroke-width="0.6"/>
<path d="M541.5,647 C540.8,643 541.2,638.5 542.8,636 C544.5,635 545.2,637 545,640 C544.8,644 544,648 541.5,650" fill="none" stroke="#807b66" stroke-width="0.55"/>
<path d="M528,650 C531,656 537,660 543,662.5" fill="none" stroke="#807b66" stroke-width="0.6"/>
<path d="M527,653 C530,658.5 535,662 540,664.5" fill="none" stroke="#807b66" stroke-width="0.6"/>
<path d="M564.3,625.7 L574.4,634.5 L581.1,645.3 L572.4,659.4 L568.6,655.8 L566.3,648 L557.5,631.1Z" fill="url(#ng)" stroke="#807b66" stroke-width="0.6" stroke-linejoin="round"/>
<path d="M519.8,616.3 C520.5,615.1 520.5,613.5 521.0,612.5 C521.5,611.5 521.6,610.5 523.1,610.5 C524.6,610.5 528.0,611.4 529.9,612.2 C531.8,613.1 534.2,614.1 534.2,615.6 C534.2,617.1 531.2,619.3 530.0,621.0 C528.8,622.7 527.7,623.8 527.2,626.0 C526.7,628.2 526.8,630.7 526.8,634.0 C526.8,637.3 527.1,643.0 527.5,646.0 C527.9,649.0 528.8,651.0 529.0,652.0 C526.2,650.1 515.2,643.4 512.5,640.5 C509.8,637.6 512.8,637.3 513.0,634.5 C513.2,631.7 513.1,626.2 513.7,623.7 C514.3,621.2 515.5,620.7 516.5,619.5 C517.5,618.3 519.0,617.5 519.8,616.3Z" fill="#f7e29b" stroke="#807b66" stroke-width="0.6"/>
<path d="M516,621.5 L521.5,613.5 M518,624 C517,628 516.5,632 516.5,636 C514,640 510,643.5 505,646.5" fill="none" stroke="#807b66" stroke-width="0.55"/>
<path d="M451.5,652.1 C451.6,650.0 451.5,647.7 453.9,646.6 C456.3,645.5 461.8,646.0 465.8,645.8 C469.8,645.6 473.5,645.5 478.0,645.4 C482.5,645.2 489.6,644.7 492.8,644.9 C496.1,645.1 496.8,645.7 497.5,646.5 C498.2,647.3 497.8,648.6 497.0,649.5 C496.2,650.4 496.2,651.1 492.8,652.1 C489.4,653.1 481.7,654.9 476.6,655.7 C471.5,656.5 466.1,656.4 462.2,657.0 C458.3,657.6 455.1,660.1 453.3,659.3 C451.5,658.5 451.4,654.2 451.5,652.1Z" fill="#f8e4a0" stroke="none"/>
<path d="M478.0,645.4 C480.5,645.3 489.6,644.7 492.8,644.9 C496.1,645.1 496.8,645.7 497.5,646.5 C498.2,647.3 497.8,648.6 497.0,649.5 C496.2,650.4 496.2,651.1 492.8,652.1 C489.4,653.1 481.7,654.9 476.6,655.7 C471.5,656.5 466.1,656.4 462.2,657.0 C458.3,657.6 454.9,658.7 453.3,659.3 C451.7,659.9 452.5,660.4 452.4,660.6" fill="none" stroke="#807b66" stroke-width="0.6"/>
<path d="M497.5,648 C502,647 508,643 512.5,638" fill="none" stroke="#807b66" stroke-width="0.55"/>
<path d="M493.5,664 C498,668 506,676 513.7,682 C518,685.5 525,686.5 528,684 C531.5,681 532,675 533.3,670.9 C534,668 535,666 536.6,664.8 L534,664 C531,668 530,674 528,679 C526,682.5 520,683 515,679.5 C508,674.5 500,667 495,662.5Z" fill="#edd283" stroke="#807b66" stroke-width="0.55"/>
<path d="M420.9,677.3 C424,676 428,675 432,672 C435,669 437,665 437.5,660" fill="none" stroke="#807b66" stroke-width="0.55"/>
<path d="M418.5,652 C421,648.5 427,647 431.5,649 C435,651 436.5,656 435.5,661" fill="none" stroke="#807b66" stroke-width="0.55"/>
<ellipse cx="426.1" cy="657" rx="7.2" ry="8.6" fill="#f9e6a4" stroke="#807b66" stroke-width="0.6" transform="rotate(25 426.1 657)"/>
<ellipse cx="425.7" cy="657" rx="5.2" ry="6.6" fill="url(#eg)" stroke="#807b66" stroke-width="0.55" transform="rotate(25 425.7 657)"/>
<path d="M421.5,674.5 C424,673.5 428,673 430.6,673.1 C433,673.3 435,674 436.2,675 L437.8,677 C437,679 436,681 434.8,682 C433,684 431.5,685.2 430,686 C428.5,687 427,687.8 425.5,688 L422.8,687.2 C422.6,684 422.3,682 422,680.3Z" fill="#ebcf7e"/>
<path d="M418.9,673.1 C420.3,677 421.5,681 422.8,687.2" fill="none" stroke="#807b66" stroke-width="0.55"/>
<path d="M424.6,677.3 L426.9,676.3 L439.2,698.6 L437.0,699.8Z" fill="#f3dc90" stroke="#807b66" stroke-width="0.5" stroke-linejoin="round"/>
<path d="M491.2,693.4 C492.7,694.1 497.0,696.0 500.2,697.4 C503.4,698.8 506.9,700.5 510.3,701.9 C513.7,703.3 517.0,704.9 520.4,705.8 C523.8,706.7 527.2,706.9 530.6,707.5 C534.0,708.1 537.2,709.0 540.7,709.2 C544.2,709.4 547.9,708.8 551.9,708.6 C555.9,708.4 562.8,708.1 565.0,708.0 L566.8,712.2 L566.8,716 L540,717 L515,711 L500,703 L491.2,697.2 Z" fill="#efd78a" stroke="none"/>
<path d="M491.2,693.4 C492.7,694.1 497.0,696.0 500.2,697.4 C503.4,698.8 506.9,700.5 510.3,701.9 C513.7,703.3 517.0,704.9 520.4,705.8 C523.8,706.7 527.2,706.9 530.6,707.5 C534.0,708.1 537.2,709.0 540.7,709.2 C544.2,709.4 547.9,708.8 551.9,708.6 C555.9,708.4 562.8,708.1 565.0,708.0" fill="none" stroke="#b3a260" stroke-width="0.55"/>
<path d="M491.2,697.2 Q498.5,697.8 504.2,702.4 Q512.7,704.2 519.3,710.0 Q527.6,709.3 535.1,713.0 Q539.3,711.9 542.4,715.0 Q546.2,712.6 550.2,714.6 Q553.4,711.7 557.5,713.1 Q560.0,710.5 563.1,712.2 Q565.0,710.6 566.8,712.2 C568.3,715 568,720 566.5,723.2 C565.5,725 564,726 563.1,726.6 C562,728 561.3,729 560.9,730 C560,733 559.3,736 558.7,738.9 Q558.1,740.5 556.4,740.1 Q551.9,740.9 548.5,737.8 Q544.4,738.9 541.2,736.1 Q536.7,737.5 532.8,735.0 Q524.5,734.1 517.6,729.4 Q505.2,727.9 494.0,722.6 C491.5,719.5 490,716.5 489,713.1 C487.8,710 487,707.5 486.7,705.2 C486.8,702 488.5,699 491.2,697.2Z" fill="#fff" stroke="#bdb9a4" stroke-width="0.5" stroke-linejoin="round"/>
<path d="M489.8,709.0 Q494.9,713.7 501.5,715.6 Q509.0,720.0 517.5,721.4 Q524.8,725.0 533.0,725.6 Q537.6,727.9 542.6,727.0 Q546.9,729.1 551.5,728.0 Q554.8,729.6 558.0,728.0 Q561.0,728.7 563.1,726.4" fill="none" stroke="#d0d0cc" stroke-width="0.5"/>
<path d="M504.2,702.4 L501.5,715.6" stroke="#d0d0cc" stroke-width="0.5" fill="none"/>
<path d="M519.3,710.0 L517.5,721.4" stroke="#d0d0cc" stroke-width="0.5" fill="none"/>
<path d="M535.1,713.0 L533.0,725.6" stroke="#d0d0cc" stroke-width="0.5" fill="none"/>
<path d="M542.4,715.0 L542.6,727.0" stroke="#d0d0cc" stroke-width="0.5" fill="none"/>
<path d="M550.2,714.6 L551.5,728.0" stroke="#d0d0cc" stroke-width="0.5" fill="none"/>
<path d="M557.5,713.1 L558.0,728.0" stroke="#d0d0cc" stroke-width="0.5" fill="none"/>
<path d="M563.1,712.2 L563.1,726.4" stroke="#d0d0cc" stroke-width="0.5" fill="none"/>
<path d="M517.6,729.4 L517.0,721.6" stroke="#d0d0cc" stroke-width="0.5" fill="none"/>
<path d="M532.8,735.0 L533.5,725.8" stroke="#d0d0cc" stroke-width="0.5" fill="none"/>
<path d="M541.2,736.1 L543.0,727.1" stroke="#d0d0cc" stroke-width="0.5" fill="none"/>
<path d="M548.5,737.8 L551.5,728.1" stroke="#d0d0cc" stroke-width="0.5" fill="none"/>
<path d="M504.5,725.5 L502.5,716.5" stroke="#d0d0cc" stroke-width="0.5" fill="none"/>

<path d="M443.4,651.0 C442.1,651.5 440.1,652.2 439.0,653.5 C437.9,654.8 437.2,656.9 437.0,658.5 C436.8,660.1 437.2,661.2 438.0,663.3 C438.8,665.4 440.9,667.9 441.6,671.3 C442.4,674.7 442.6,678.8 442.5,683.9 C442.4,689.0 440.8,696.5 440.7,701.9 C440.6,707.3 440.6,711.5 441.6,716.3 C442.7,721.1 444.6,726.8 447.0,730.7 C449.4,734.6 451.5,736.7 456.0,739.7 C460.5,742.7 467.9,745.0 473.9,748.7 C479.9,752.4 487.5,758.8 491.9,762.0 C496.2,765.2 496.1,765.9 500.0,768.0 C503.9,770.1 510.5,772.7 515.2,774.8 C519.9,776.9 524.4,779.1 528.3,780.8 C532.2,782.5 535.4,784.0 538.4,784.8 C541.4,785.5 544.1,785.8 546.5,785.3 C548.9,784.8 551.2,783.2 552.6,781.6 C554.0,780.0 554.9,777.7 555.1,775.5 C555.4,773.3 554.4,771.3 554.1,768.4 C553.9,765.5 553.2,761.7 553.6,758.3 C554.0,754.9 555.5,751.2 556.6,748.2 C557.7,745.2 559.6,741.5 560.2,740.1 C557.7,739.6 550.9,738.2 545.0,737.0 C539.1,735.8 532.6,734.6 525.0,733.0 C517.4,731.4 503.4,728.1 499.1,727.1 C498.4,726.6 496.2,725.2 495.0,724.0 C493.8,722.8 493.2,723.0 491.9,719.9 C490.6,716.8 488.1,710.6 487.4,705.5 C486.6,700.4 486.6,694.7 487.4,689.3 C488.1,683.9 491.3,677.0 491.9,673.1 C492.5,669.2 491.9,667.9 491.0,666.0 C490.1,664.1 487.9,662.8 486.5,662.0 C485.1,661.2 485.0,660.8 482.9,661.5 C480.8,662.2 476.9,664.8 473.9,666.0 C470.9,667.2 467.6,668.6 464.9,668.7 C462.2,668.9 459.9,668.2 457.8,666.9 C455.7,665.5 453.6,662.9 452.4,660.6 C451.2,658.4 451.5,655.0 450.6,653.4 C449.7,651.8 448.2,651.1 447.0,650.7 C445.8,650.3 444.7,650.5 443.4,651.0Z" fill="url(#mg)" stroke="#807b66" stroke-width="0.7"/>
<g clip-path="url(#mdclip)"><ellipse cx="462" cy="704" rx="8" ry="20" fill="#ecce72" opacity="0.75" filter="url(#blur4)" transform="rotate(-12 462 704)"/><ellipse cx="520" cy="772" rx="30" ry="6" fill="#efd37c" opacity="0.5" filter="url(#blur4)" transform="rotate(22 520 772)"/></g>
<clipPath id="tclip"><path d="M500.5,700 L572,700 L572,746 L520,746 L500.5,729Z"/></clipPath><g clip-path="url(#tclip)"><path d="M491.2,697.2 Q498.5,697.8 504.2,702.4 Q512.7,704.2 519.3,710.0 Q527.6,709.3 535.1,713.0 Q539.3,711.9 542.4,715.0 Q546.2,712.6 550.2,714.6 Q553.4,711.7 557.5,713.1 Q560.0,710.5 563.1,712.2 Q565.0,710.6 566.8,712.2 C568.3,715 568,720 566.5,723.2 C565.5,725 564,726 563.1,726.6 C562,728 561.3,729 560.9,730 C560,733 559.3,736 558.7,738.9 Q558.1,740.5 556.4,740.1 Q551.9,740.9 548.5,737.8 Q544.4,738.9 541.2,736.1 Q536.7,737.5 532.8,735.0 Q524.5,734.1 517.6,729.4 Q505.2,727.9 494.0,722.6 C491.5,719.5 490,716.5 489,713.1 C487.8,710 487,707.5 486.7,705.2 C486.8,702 488.5,699 491.2,697.2Z" fill="#fff" stroke="#bdb9a4" stroke-width="0.5" stroke-linejoin="round"/>
<path d="M489.8,709.0 Q494.9,713.7 501.5,715.6 Q509.0,720.0 517.5,721.4 Q524.8,725.0 533.0,725.6 Q537.6,727.9 542.6,727.0 Q546.9,729.1 551.5,728.0 Q554.8,729.6 558.0,728.0 Q561.0,728.7 563.1,726.4" fill="none" stroke="#d0d0cc" stroke-width="0.5"/>
<path d="M504.2,702.4 L501.5,715.6" stroke="#d0d0cc" stroke-width="0.5" fill="none"/>
<path d="M519.3,710.0 L517.5,721.4" stroke="#d0d0cc" stroke-width="0.5" fill="none"/>
<path d="M535.1,713.0 L533.0,725.6" stroke="#d0d0cc" stroke-width="0.5" fill="none"/>
<path d="M542.4,715.0 L542.6,727.0" stroke="#d0d0cc" stroke-width="0.5" fill="none"/>
<path d="M550.2,714.6 L551.5,728.0" stroke="#d0d0cc" stroke-width="0.5" fill="none"/>
<path d="M557.5,713.1 L558.0,728.0" stroke="#d0d0cc" stroke-width="0.5" fill="none"/>
<path d="M563.1,712.2 L563.1,726.4" stroke="#d0d0cc" stroke-width="0.5" fill="none"/>
<path d="M517.6,729.4 L517.0,721.6" stroke="#d0d0cc" stroke-width="0.5" fill="none"/>
<path d="M532.8,735.0 L533.5,725.8" stroke="#d0d0cc" stroke-width="0.5" fill="none"/>
<path d="M541.2,736.1 L543.0,727.1" stroke="#d0d0cc" stroke-width="0.5" fill="none"/>
<path d="M548.5,737.8 L551.5,728.1" stroke="#d0d0cc" stroke-width="0.5" fill="none"/>
<path d="M504.5,725.5 L502.5,716.5" stroke="#d0d0cc" stroke-width="0.5" fill="none"/>
</g>
<path d="M447.5,718.0 C448.2,720.0 449.6,726.8 452.0,730.0 C454.4,733.2 458.0,734.7 462.0,737.0 C466.0,739.3 471.7,741.5 476.0,744.0 C480.3,746.5 485.3,750.0 488.0,752.0 C490.7,754.0 491.3,755.3 492.0,756.0" fill="none" stroke="#807b66" stroke-width="0.6"/>
<path d="M491.9,719.9 C492.4,721.1 493.7,724.6 495.0,727.0 C496.3,729.4 498.8,732.8 499.5,734.0" fill="none" stroke="#807b66" stroke-width="0.6"/>
<path d="M526.5,738.0 L525.0,746.0" stroke="#807b66" stroke-width="0.6" fill="none"/>
<path d="M540.0,740.5 L538.5,748.5" stroke="#807b66" stroke-width="0.6" fill="none"/>
<path d="M549.0,742.5 L547.5,749.5" stroke="#807b66" stroke-width="0.6" fill="none"/>
</g>

<!-- knee -->
<path d="M279,851 L347.9,853.2 C358,855.5 367,859.5 374.8,863 C384,866.5 392,869.5 400,872 L411,872.5 L421.6,875.3 L417.5,878 L390.2,879.5 L389.2,882.8 L374.8,879.2 L351.5,878.3 C345,874.5 335,870.5 320.9,864.8 L293.9,856.2 Z" fill="url(#kquad)" stroke="none"/>
<path d="M305,856.5 C330,860 355,866 372,871.5 C380,874 386,877 389.5,880" fill="none" stroke="#5d7489" stroke-width="0.5" opacity="0.55"/>
<path d="M330,853 L347.9,853.6 C358,855.8 367,859.8 374.8,863.3 C384,866.8 392,869.8 400,872.2 M351.5,878.3 C345,874.5 335,870.5 320.9,864.8 L300,858.2" fill="none" stroke="#5d7489" stroke-width="0.5" opacity="0.8"/>
<path d="M156.0,851.5 C174.7,851.5 249.3,851.5 268.0,851.5 C270.8,852.6 276.2,855.1 285.0,858.3 C293.8,861.5 309.3,866.8 320.5,870.5 C331.7,874.2 346.9,878.9 352.2,880.6 C355.3,881.7 366.0,884.0 370.8,887.0 C375.6,890.0 378.5,894.3 380.9,898.8 C383.3,903.3 384.1,908.3 385.1,913.9 C386.1,919.5 386.9,926.6 386.8,932.5 C386.7,938.4 385.9,944.2 384.3,949.3 C382.8,954.3 380.3,958.8 377.5,962.8 C374.7,966.8 371.0,970.8 367.4,973.4 C363.8,976.0 359.8,977.5 355.6,978.1 C351.4,978.7 346.3,978.2 342.1,977.0 C337.9,975.8 333.9,973.1 330.3,970.6 C326.7,968.1 323.0,963.7 320.5,962.3 C318.0,960.9 316.2,962.3 315.4,962.3 C315.1,960.9 314.6,957.9 313.4,954.2 C312.2,950.5 311.2,944.5 308.3,940.1 C305.4,935.7 300.9,931.5 296.2,927.9 C291.5,924.3 285.7,921.7 280.0,918.5 C274.3,915.3 265.0,910.2 262.0,908.5 C244.3,899.0 173.7,861.0 156.0,851.5Z" fill="url(#kfem)"/>
<path d="M322.0,872.0 C331.0,863.9 347.2,879.2 352.2,880.6 C355.3,881.7 366.0,884.0 370.8,887.0 C375.6,890.0 378.5,894.3 380.9,898.8 C383.3,903.3 384.1,908.3 385.1,913.9 C386.1,919.5 386.9,926.6 386.8,932.5 C386.7,938.4 385.9,944.2 384.3,949.3 C382.8,954.3 380.3,958.8 377.5,962.8 C374.7,966.8 371.0,970.8 367.4,973.4 C363.8,976.0 359.8,977.5 355.6,978.1 C351.4,978.7 346.3,978.2 342.1,977.0 C337.9,975.8 333.9,973.1 330.3,970.6 C326.7,968.1 323.0,963.7 320.5,962.3 C318.0,960.9 316.2,962.3 315.4,962.3 C315.1,960.9 314.6,957.9 313.4,954.2 C312.2,950.5 310.9,944.3 308.3,940.1 C305.7,935.9 295.7,940.4 298.0,929.0 C300.3,917.6 313.0,880.1 322.0,872.0Z" fill="url(#kcon)" filter="url(#blur2)" opacity="0.85" clip-path="url(#kfemclip)"/>
<g clip-path="url(#kfemclip)"><ellipse cx="319" cy="891" rx="20" ry="4.2" fill="#b09886" opacity="0.6" filter="url(#blur2)" transform="rotate(10 319 891)"/><ellipse cx="346.5" cy="913.5" rx="4" ry="3.5" fill="#a8917f" opacity="0.65" filter="url(#blur2)"/><path d="M156,851.5 L262,908.5 L318,965 L300,965 L150,868Z" fill="#9d826e" opacity="0.55" filter="url(#blur4)"/></g>
<path d="M156,851.5 L262,908.5 C270,913 275,915.5 280,918.5" fill="none" stroke="#806a59" stroke-width="0.8" opacity="0.85"/>
<path d="M272,853 L285,858.3 C300,863.5 310,867 320.5,870.5 C332,874.5 342,877.8 352.2,880.6" fill="none" stroke="#7f6a5a" stroke-width="0.6" opacity="0.8"/>
<path d="M328.2,1003.0 C330.4,1001.8 333.2,1000.8 336.0,1000.5 C338.8,1000.2 341.8,1001.1 345.0,1001.5 C348.2,1001.9 352.0,1002.2 355.0,1003.0 C358.0,1003.8 361.7,1005.5 363.0,1006.0 C363.4,1010.4 364.4,1025.3 365.5,1032.6 C366.6,1039.9 367.9,1046.0 369.3,1049.8 C370.7,1053.6 373.9,1052.6 374.0,1055.5 C374.1,1058.4 371.8,1061.3 370.2,1067.0 C368.6,1072.7 366.1,1082.1 364.5,1089.9 C362.9,1097.7 361.3,1110.0 360.7,1114.0 C356.1,1114.0 337.6,1114.0 333.0,1114.0 C332.8,1107.4 332.2,1085.9 332.0,1074.6 C331.8,1063.3 332.6,1052.4 332.0,1046.0 C331.4,1039.6 329.9,1040.2 328.2,1036.4 C326.4,1032.6 322.8,1026.5 321.5,1023.0 C320.2,1019.5 320.4,1017.9 320.6,1015.4 C320.9,1012.9 321.7,1010.1 323.0,1008.0 C324.3,1005.9 326.0,1004.2 328.2,1003.0Z" fill="url(#kfib)" stroke="#65788a" stroke-width="0.6"/>
<path d="M323.5,1016 C323.5,1010 326.5,1006.5 330.5,1007 C335,1008 338.5,1013 339.3,1021 C339.6,1027 338,1033 335,1038 C337,1030 337,1022 335,1016.5 C333,1011.5 329,1009.5 326.5,1011.5 C325,1013 324.5,1015 324.3,1018 C324.5,1024 327,1030 329.5,1035.5 C326,1030 323.5,1023 323.5,1016Z" fill="#967c6a" opacity="0.7" filter="url(#blur1)"/>
<path d="M326.5,1012.5 C329,1010.5 332.5,1012.5 334,1017 C335.8,1022.5 335.5,1030 333.8,1036.5 C331,1033 326,1024 325.5,1017 C325.5,1015 325.8,1013.5 326.5,1012.5Z" fill="#b49b87" opacity="0.7" filter="url(#blur1)"/>
<path d="M363.5,998.2 C366.5,997.7 376.1,995.9 381.7,995.3 C387.3,994.7 391.9,994.1 397.0,994.4 C402.1,994.7 407.9,995.0 412.3,997.2 C416.8,999.4 420.5,1004.4 423.7,1007.8 C426.9,1011.1 429.3,1013.2 431.4,1017.3 C433.5,1021.4 435.2,1028.0 436.1,1032.6 C437.1,1037.2 437.2,1038.0 437.1,1045.0 C437.0,1052.0 436.1,1063.1 435.2,1074.6 C434.2,1086.1 432.0,1107.4 431.4,1114.0 C419.6,1114.0 372.5,1114.0 360.7,1114.0 C361.3,1110.0 362.9,1097.7 364.5,1089.9 C366.1,1082.1 368.6,1072.7 370.2,1067.0 C371.8,1061.3 374.1,1058.5 374.0,1055.5 C373.9,1052.5 370.7,1052.8 369.3,1049.0 C367.9,1045.2 366.6,1038.8 365.5,1032.6 C364.4,1026.4 363.3,1017.7 363.0,1012.0 C362.7,1006.3 363.4,1000.5 363.5,998.2Z" fill="url(#ktib)" stroke="#65788a" stroke-width="0.6"/>
<g clip-path="url(#ktibclip)"><path d="M371,1030 C385,1031 400,1032 413,1034 C413,1055 410,1078 407,1096 L393,1098 C393,1082 391,1066 388,1056 C383,1052 377,1049 372,1046Z" fill="#9d8371" opacity="0.62" filter="url(#blur6)"/><ellipse cx="398" cy="1003" rx="26" ry="6" fill="#d8c6b6" opacity="0.6" filter="url(#blur2)"/></g>
<path d="M420.8,1013.5 L420.8,1042.1" stroke="#6d7f8f" stroke-width="0.8" fill="none"/>
<path d="M437.8,942 C441,960 440.5,990 439.5,1015 C439,1045 437,1080 433,1114 L431.2,1114 C434.5,1080 436.3,1045 436.8,1015 L437,960Z" fill="#9fb6c9" stroke="#5d7489" stroke-width="0.4"/>
<path d="M437.3,1013 L428.5,1013 C431,1017 434,1024 436.6,1036 L437.3,1036Z" fill="#a3bace" stroke="#5d7489" stroke-width="0.4"/>
<path d="M386,898 C396,906 403,918 408,934 C411,945 414,957 416.5,970 L420,985 C410,985 400,985 392,985 L372,983 C380,972 384,958 386,945Z" fill="url(#kdark)" stroke="#4f6479" stroke-width="0.5"/>
<path d="M383,966 C385,972 387.5,978 391,983.5 L400,983.5 C395,978 390.5,971 388.5,963Z" fill="#8199ae" stroke="#4f6479" stroke-width="0.5"/>
<path d="M327.2,981.5 C325,986 324.2,991 325.2,995.5 C326.2,999.5 328,1001.8 330,1002.3 C338,999.8 350,999.8 362,1000.8 C372,997.8 384,995.8 397,994.9 C404,995.1 410,996.3 416.5,998.8 C414,991 410,985.5 403,982.5 C396,984 390,985.5 384,985.5 C376,986.5 366,987 356,986.5 C345,986 335,984.5 327.2,981.5Z" fill="url(#kmen)" stroke="#5d7489" stroke-width="0.5"/>
<path d="M394,985.5 C399,983 405,984 409,988 C412,992 414.5,996 416.5,998.8 C410,996.8 404,995.8 398,995.2 C393,993.5 391,988.5 394,985.5Z" fill="#8099af" stroke="#5d7489" stroke-width="0.5"/>
<path d="M363,992.5 C372,990 384,989.5 392,991.5" fill="none" stroke="#5d7489" stroke-width="0.5" opacity="0.7"/>
<path d="M350.6,878.0 C352.5,877.9 358.1,877.5 362.0,877.6 C365.9,877.7 370.7,878.1 374.2,878.8 C377.7,879.4 380.7,880.2 383.0,881.5 C385.3,882.8 386.3,883.1 387.8,886.5 C389.3,889.9 390.5,896.7 391.9,902.1 C393.3,907.5 395.1,913.4 396.1,919.0 C397.1,924.6 398.1,930.5 397.8,935.8 C397.5,941.1 396.1,946.2 394.4,951.0 C392.7,955.8 390.3,960.5 387.6,964.5 C384.9,968.5 381.1,972.2 378.0,975.0 C374.9,977.8 372.5,979.8 369.0,981.5 C365.5,983.2 361.7,984.7 356.9,985.2 C352.1,985.7 345.4,985.9 340.4,984.7 C335.4,983.5 330.9,980.8 327.0,978.0 C323.1,975.2 319.0,970.7 316.9,967.9 C314.8,965.1 314.7,962.2 314.3,961.1 L320.5,962.3 C322.1,963.7 326.7,968.1 330.3,970.6 C333.9,973.1 337.9,975.8 342.1,977.0 C346.3,978.2 351.4,978.7 355.6,978.1 C359.8,977.5 363.8,976.0 367.4,973.4 C371.0,970.8 374.7,966.8 377.5,962.8 C380.3,958.8 382.8,954.3 384.3,949.3 C385.9,944.2 386.7,938.4 386.8,932.5 C386.9,926.6 386.1,919.5 385.1,913.9 C384.1,908.3 383.3,903.3 380.9,898.8 C378.5,894.3 375.6,890.0 370.8,887.0 C366.0,884.0 355.3,881.7 352.2,880.6Z" fill="url(#kcart)" stroke="#5d7489" stroke-width="0.6"/>
<path d="M356.0,881.5 C358.7,882.2 367.6,883.2 372.0,886.0 C376.4,888.8 379.9,893.4 382.5,898.0 C385.1,902.6 386.4,908.1 387.5,913.9 C388.6,919.6 389.4,926.5 389.3,932.5 C389.2,938.5 388.4,944.8 386.8,950.0 C385.2,955.2 382.9,959.8 380.0,964.0 C377.1,968.2 373.5,972.3 369.5,975.0 C365.5,977.7 360.7,979.6 356.0,980.3 C351.3,981.0 346.0,980.5 341.5,979.3 C337.0,978.0 332.5,975.3 329.0,972.8 C325.5,970.3 321.9,965.9 320.5,964.5" fill="none" stroke="#d3e0ea" stroke-width="2.2" opacity="0.85" filter="url(#blur1)"/>
<path d="M362.0,878.6 C364.0,878.8 370.7,879.1 374.2,879.8 C377.7,880.4 380.9,881.2 383.0,882.5 C385.1,883.8 385.7,884.2 387.0,887.5 C388.3,890.8 389.5,896.9 390.9,902.1 C392.2,907.4 394.1,913.4 395.1,919.0 C396.1,924.6 397.1,930.5 396.8,935.8 C396.5,941.1 395.1,946.3 393.4,951.0 C391.7,955.7 389.2,960.2 386.6,964.0 C384.0,967.8 380.5,971.2 377.5,974.0 C374.5,976.8 371.9,978.8 368.5,980.5 C365.1,982.2 361.6,983.7 356.9,984.2 C352.2,984.7 345.3,984.9 340.4,983.7 C335.5,982.5 331.3,979.7 327.5,977.0 C323.7,974.3 319.2,969.1 317.5,967.5" fill="none" stroke="#7f98b0" stroke-width="1.6" opacity="0.6" filter="url(#blur1)"/>
<path d="M390.2,878.4 C391.2,875.6 393.1,875.5 395.0,874.5 C396.9,873.5 398.7,872.7 401.4,872.3 C404.1,871.9 407.7,871.8 411.0,872.3 C414.3,872.8 417.4,872.5 421.0,875.0 C424.6,877.5 429.5,881.9 432.7,887.0 C435.9,892.1 438.6,899.2 440.0,905.7 C441.4,912.2 441.3,919.8 441.0,925.9 C440.7,932.0 439.6,938.7 438.3,942.1 C437.1,945.5 435.3,945.6 433.5,946.3 C431.7,946.9 430.3,946.6 427.6,946.0 C424.9,945.4 421.2,944.6 417.5,942.4 C413.8,940.2 408.8,936.8 405.4,933.0 C402.0,929.2 399.5,924.3 397.3,919.8 C395.1,915.2 393.7,910.4 392.3,905.7 C390.9,901.0 389.6,896.0 389.2,891.5 C388.8,887.0 389.2,881.2 390.2,878.4Z" fill="#93abc0" stroke="#5d7489" stroke-width="0.6"/>
<path d="M391.2,880.0 C392.2,877.4 394.3,876.8 396.0,875.8 C397.7,874.8 399.1,874.2 401.4,873.8 C403.7,873.4 407.1,873.2 410.0,873.6 C412.9,874.0 415.1,874.0 418.5,876.3 C421.9,878.6 427.4,882.7 430.7,887.6 C434.0,892.5 436.8,899.3 438.2,905.7 C439.6,912.1 439.7,920.4 439.3,925.9 C438.9,931.4 437.0,935.6 435.7,938.5 C434.4,941.4 432.9,942.5 431.5,943.5 C430.1,944.5 429.3,944.8 427.0,944.4 C424.7,944.0 421.1,943.3 417.5,941.2 C413.9,939.1 408.9,935.6 405.7,932.0 C402.4,928.4 400.1,923.9 398.0,919.5 C395.9,915.1 394.5,910.4 393.2,905.7 C391.9,901.0 390.5,895.8 390.2,891.5 C389.9,887.2 390.2,882.6 391.2,880.0Z" fill="url(#kpat)" stroke="#8a7767" stroke-width="0.5"/>
<path d="M436.0,905.7 C436.2,909.1 437.4,920.5 437.0,925.9 C436.6,931.3 435.4,935.1 433.7,938.0 C432.0,940.9 429.7,942.7 427.0,943.0 C424.3,943.3 421.0,942.0 417.5,940.0 C414.0,938.0 407.8,932.5 405.9,931.0" fill="none" stroke="#a58e7c" stroke-width="1.6" opacity="0.5" filter="url(#blur2)"/>
<path d="M405.4,933 C409,940 411,948 412.5,958 C415,972 417,986 418.5,1000 L420.8,1013.5 L437.1,1013.5 C437.8,995 438,975 437.9,960 L438.8,942.1 C435,946 430,946.5 427.6,945.6 C420,943.5 412,939 405.4,933Z" fill="url(#kplig)" stroke="#5d7489" stroke-width="0.5" opacity="0.97"/>
<path d="M326.5,912 C329,925 332,940 334.6,950.2 C337.5,962 340,972 341.6,979.1 C342.2,990 341,1000 339.7,1017.3 C338,1026 335,1036 333,1044 L332.5,1075 L371,1075 C373,1066 374,1060 374,1055.5 C371.5,1052 369.5,1048 368.5,1044 C366,1034 363.5,1020 362.6,1007.8 C361.5,995 360.9,985 360.7,979.1 L360.9,912Z" fill="url(#klcl)"/>
<path d="M328.8,926 C330.5,934 332.5,942 334.6,950.2 C337.5,962 340,972 341.6,979.1 C342.2,990 341,1000 339.7,1017.3 C338,1026 335,1036 333,1044" fill="none" stroke="#5d7489" stroke-width="0.55"/>
<path d="M360.9,928.5 L360.7,979.1 C360.9,985 361.5,995 362.6,1007.8 C363.5,1020 366,1034 368.5,1044 L369.3,1056" fill="none" stroke="#5d7489" stroke-width="0.55"/>
<path d="M337.0,1029.3 L335.2,1061.5 M340.0,1029.0 L338.6,1062.4 M343.0,1028.7 L341.9,1063.3 M346.0,1028.4 L345.3,1064.2 M349.0,1028.1 L348.6,1065.1 M352.0,1028.2 L352.0,1066.0 M355.0,1028.5 L355.4,1065.1 M358.0,1028.8 L358.7,1064.2 M361.0,1029.1 L362.1,1063.3 M364.0,1029.4 L365.4,1062.4 " fill="none" stroke="#90a4b6" stroke-width="0.5" opacity="0.35"/>
<path d="M140,840 L262,840 L262,912 L140,900Z" fill="url(#kfade)"/>
<rect x="140" y="846" width="300" height="7.5" fill="url(#ktopfade)"/>
<rect x="315" y="1093" width="130" height="21" fill="url(#kbotfade)"/><rect x="315" y="1113.5" width="130" height="4" fill="#fff"/>

<!-- labels -->
<polyline class="ln" points="423.0,247.2 503.2,236.3 642.7,236.3"/>
<circle class="dot" cx="423.0" cy="247.2" r="1.4"/>
<text class="lb" x="531.8" y="231.5" textLength="83.6" lengthAdjust="spacingAndGlyphs">Querfortsatz</text>
<polyline class="ln" points="446.5,344.3 590.1,287.7 737.8,287.7"/>
<circle class="dot" cx="446.5" cy="344.3" r="1.4"/>
<text class="lb" x="628.9" y="283.3" textLength="71.5" lengthAdjust="spacingAndGlyphs">Wirbelloch</text>
<polyline class="ln" points="539.6,350.8 610.4,343.5 737.8,343.5"/>
<circle class="dot" cx="539.6" cy="350.8" r="1.4"/>
<text class="lb" x="626.9" y="339.1" textLength="87.6" lengthAdjust="spacingAndGlyphs">Wirbelkörper</text>
<polyline class="ln" points="336.5,337.0 317.0,308.4 152.5,308.4"/>
<circle class="dot" cx="336.5" cy="337.0" r="1.4"/>
<text class="lb" x="193.7" y="303.9" textLength="83.8" lengthAdjust="spacingAndGlyphs">Dornfortsatz</text>
<polyline class="ln" points="370.2,539.8 308.5,509.4 152.5,509.4"/>
<circle class="dot" cx="370.2" cy="539.8" r="1.4"/>
<text class="lb" x="189.7" y="505.2" textLength="82.1" lengthAdjust="spacingAndGlyphs">Scheitelbein</text>
<polyline class="ln" points="333.5,627.7 306.8,640.2 152.5,640.2"/>
<circle class="dot" cx="333.5" cy="627.7" r="1.4"/>
<text class="lb" x="171.1" y="635.7" textLength="116.5" lengthAdjust="spacingAndGlyphs">Hinterhauptsbein</text>
<polyline class="ln" points="446.0,605.0 342.2,705.6 169.3,705.6"/>
<circle class="dot" cx="446.0" cy="605.0" r="1.4"/>
<text class="lb" x="212.6" y="701.4" textLength="85.8" lengthAdjust="spacingAndGlyphs">Schläfenbein</text>
<polyline class="ln" points="529.4,542.4 569.7,506.8 738.0,506.8"/>
<circle class="dot" cx="529.4" cy="542.4" r="1.4"/>
<text class="lb" x="623.5" y="502.6" textLength="61.0" lengthAdjust="spacingAndGlyphs">Stirnbein</text>
<polyline class="ln" points="497.3,614.1 586.3,554.0 738.0,554.0"/>
<circle class="dot" cx="497.3" cy="614.1" r="1.4"/>
<text class="lb" x="635.4" y="550.1" textLength="54.2" lengthAdjust="spacingAndGlyphs">Keilbein</text>
<polyline class="ln" points="547.6,621.9 587.0,602.1 738.0,602.1"/>
<circle class="dot" cx="547.6" cy="621.9" r="1.4"/>
<text class="lb" x="622.2" y="597.9" textLength="81.5" lengthAdjust="spacingAndGlyphs">Augenhöhle</text>
<polyline class="ln" points="570.9,639.9 602.7,648.4 738.0,648.4"/>
<circle class="dot" cx="570.9" cy="639.9" r="1.4"/>
<text class="lb" x="635.4" y="644.1" textLength="70.5" lengthAdjust="spacingAndGlyphs">Nasenbein</text>
<polyline class="ln" points="514.6,669.1 593.2,681.4 738.0,681.4"/>
<circle class="dot" cx="514.6" cy="669.1" r="1.4"/>
<text class="lb" x="635.4" y="676.5" textLength="60.1" lengthAdjust="spacingAndGlyphs">Jochbein</text>
<polyline class="ln" points="542.3,684.8 587.0,717.9 738.0,717.9"/>
<circle class="dot" cx="542.3" cy="684.8" r="1.4"/>
<text class="lb" x="598.6" y="713.3" textLength="127.8" lengthAdjust="spacingAndGlyphs">Oberkieferknochen</text>
<polyline class="ln" points="524.0,763.5 558.6,784.6 738.0,784.6"/>
<circle class="dot" cx="524.0" cy="763.5" r="1.4"/>
<text class="lb" x="582.9" y="780.3" textLength="131.5" lengthAdjust="spacingAndGlyphs">Unterkieferknochen</text>
<polyline class="ln" points="322.5,950.3 277.0,930.8 116.9,930.8"/>
<circle class="dot" cx="322.5" cy="950.3" r="1.4"/>
<text class="lb" x="123.4" y="926.6" textLength="148.5" lengthAdjust="spacingAndGlyphs">Oberschenkelknochen</text>
<polyline class="ln" points="398.8,960.2 298.9,955.0 116.9,955.0"/>
<circle class="dot" cx="398.8" cy="960.2" r="1.4"/>
<text class="lb" x="141.2" y="950.5" textLength="131.0" lengthAdjust="spacingAndGlyphs">Kniegelenksknorpel</text>
<polyline class="ln" points="338.6,989.8 303.9,1008.3 116.9,1008.3"/>
<circle class="dot" cx="338.6" cy="989.8" r="1.4"/>
<text class="lb" x="178.6" y="1003.7" textLength="62.3" lengthAdjust="spacingAndGlyphs">Meniskus</text>
<polyline class="ln" points="350.1,1009.3 297.2,1036.3 116.9,1036.3"/>
<circle class="dot" cx="350.1" cy="1009.3" r="1.4"/>
<text class="lb" x="167.5" y="1031.7" textLength="78.4" lengthAdjust="spacingAndGlyphs">Außenband</text>
<polyline class="ln" points="399.8,1056.6 305.6,1066.6 116.9,1066.6"/>
<circle class="dot" cx="399.8" cy="1056.6" r="1.4"/>
<text class="lb" x="135.5" y="1062.1" textLength="152.6" lengthAdjust="spacingAndGlyphs">Unterschenkelknochen</text>
<polyline class="ln" points="348.7,1078.4 295.5,1102.0 116.9,1102.0"/>
<circle class="dot" cx="348.7" cy="1078.4" r="1.4"/>
<text class="lb" x="167.9" y="1097.4" textLength="75.3" lengthAdjust="spacingAndGlyphs">Wadenbein</text>
<polyline class="ln" points="421.3,919.1 441.9,896.2 594.2,896.2"/>
<circle class="dot" cx="421.3" cy="919.1" r="1.4"/>
<text class="lb" x="477.7" y="891.6" textLength="80.5" lengthAdjust="spacingAndGlyphs">Kniescheibe</text>
<polyline class="ln" points="387.6,977.4 452.7,952.1 626.3,952.1"/>
<circle class="dot" cx="387.6" cy="977.4" r="1.4"/>
<text class="lb" x="504.0" y="947.6" textLength="72.0" lengthAdjust="spacingAndGlyphs">Kreuzband</text>
<polyline class="ln" points="428.4,983.5 454.4,993.9 626.3,993.9"/>
<circle class="dot" cx="428.4" cy="983.5" r="1.4"/>
<text class="lb" x="477.7" y="989.0" textLength="123.6" lengthAdjust="spacingAndGlyphs">Kniescheibenband</text>

<!-- footer -->
<g fill="#e8652d">
<polygon points="120.3,1199.1 128.1,1202.1 125.4,1210.2 117.3,1207.2"/>
<polygon points="108.2,1204.2 119.0,1212.3 134.8,1213.3 135.2,1221.7 125.1,1222.0 128.8,1232.1 120.3,1234.5 117.0,1223.7 107.5,1230.5 102.8,1223.0 110.9,1217.0 103.1,1210.9"/>
</g>
<g font-size="7" font-weight="700" fill="#222">
<text x="156.1" y="1211.6" textLength="521" lengthAdjust="spacingAndGlyphs">© Österreichischer Bundesverlag Schulbuch GmbH &amp; Co. KG, Wien 2021  | www.oebv.at  | Begegnungen mit  der Natur 4,  Schülerbuch |  ISBN 978-3-209-08791-1</text>
<text x="156.1" y="1221.6" textLength="391.5" lengthAdjust="spacingAndGlyphs">Alle Rechte vorbehalten. Von dieser Druckvorlage ist die Vervielfältigung für den eigenen Unterrichtsgebrauch gestattet.</text>
<text x="156.1" y="1231.4" textLength="375" lengthAdjust="spacingAndGlyphs">Die Kopiergebühren sind abgegolten. Für Veränderungen durch Dritte übernimmt der Verlag keine Verantwortung.</text>
</g>

</svg>
</body></html>
